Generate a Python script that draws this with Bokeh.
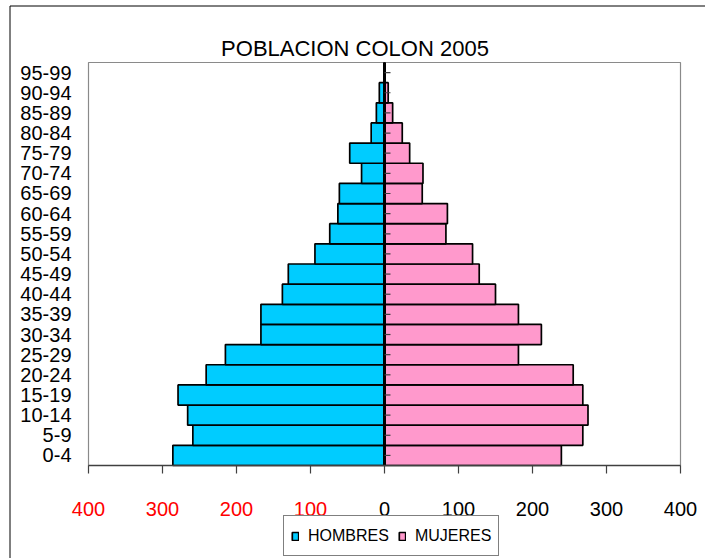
from bokeh.plotting import figure
from bokeh.models import ColumnDataSource, Range1d, Legend, LegendItem
from bokeh.core.properties import value
from bokeh.embed import file_html
from bokeh.resources import INLINE

# ---------------- data ----------------
age_groups = ["0-4", "5-9", "10-14", "15-19", "20-24", "25-29", "30-34", "35-39",
              "40-44", "45-49", "50-54", "55-59", "60-64", "65-69", "70-74", "75-79",
              "80-84", "85-89", "90-94", "95-99"]
hombres = [286, 259, 266, 279, 241, 215, 167, 167, 138, 130, 94, 74, 63, 61, 31, 47,
           18, 11, 7, 0]
mujeres = [239, 268, 275, 268, 255, 181, 212, 181, 150, 128, 119, 83, 85, 51, 52, 34,
           24, 11, 5, 0]
x_ticks = [-400, -300, -200, -100, 0, 100, 200, 300, 400]
x_tick_labels = ["400", "300", "200", "100", "0", "100", "200", "300", "400"]
x_tick_colors = ["red", "red", "red", "red", "black", "black", "black", "black", "black"]
title_text = "POBLACION COLON 2005"
legend_labels = ["HOMBRES", "MUJERES"]

# ---------------- layout (pixels) ----------------
W, H = 705, 558
PX_L, PX_R, PX_T, PX_B = 88, 680, 62, 465      # plot area
XMIN, XMAX = -400, 400
NROWS = len(age_groups)
XS = (XMAX - XMIN) / (PX_R - PX_L)             # data units per px (x)
YS = NROWS / (PX_B - PX_T)                     # rows per px (y)


def X(px):
    return XMIN + (px - PX_L) * XS


def Y(py):
    return (PX_B - py) * YS


FONT = "Liberation Sans"
BLUE, PINK = "#00CCFF", "#FF99CC"

p = figure(width=W, height=H,
           x_range=Range1d(X(0), X(W)), y_range=Range1d(Y(H), Y(0)),
           x_axis_location=None, y_axis_location=None,
           output_backend="svg", toolbar_location=None,
           min_border=0, min_border_left=0, min_border_right=0,
           min_border_top=0, min_border_bottom=0)
p.outline_line_color = None
p.grid.visible = False
p.background_fill_color = "white"
p.border_fill_color = "white"

rows = list(range(NROWS))
row_c = [i + 0.5 for i in rows]

# outer chart border (left + top visible in the picture)
p.segment(x0=[X(9.5), X(9.5)], y0=[Y(5.5), Y(5.5)], x1=[X(9.5), X(W)], y1=[Y(H), Y(5.5)],
          line_color="black", line_width=1)

# plot area outline
p.quad(left=[XMIN], right=[XMAX], bottom=[0], top=[NROWS],
       fill_color=None, line_color="#8a8a8a", line_width=1.2)

src = ColumnDataSource(dict(y=row_c, h_left=[-v for v in hombres], m_right=mujeres))
r_h = p.hbar(y="y", left="h_left", right=0, height=1.0, source=src,
             fill_color=BLUE, line_color="black", line_width=1.7)
r_m = p.hbar(y="y", left=0, right="m_right", height=1.0, source=src,
             fill_color=PINK, line_color="black", line_width=1.7)

# vertical category axis at zero with small ticks
p.segment(x0=[0], x1=[0], y0=[0], y1=[NROWS], line_color="black", line_width=3)
p.segment(x0=[0] * NROWS, x1=[6 * XS] * NROWS, y0=row_c, y1=row_c,
          line_color="#404040", line_width=1.2)

# horizontal value axis
p.segment(x0=[XMIN], x1=[XMAX], y0=[0], y1=[0], line_color="#404040", line_width=1.6)
p.segment(x0=x_ticks, x1=x_ticks, y0=[0] * len(x_ticks), y1=[-8 * YS] * len(x_ticks),
          line_color="#404040", line_width=1.2)

# x tick labels (red on the men side)
tick_src = ColumnDataSource(dict(x=x_ticks, y=[Y(508)] * len(x_ticks),
                                 text=x_tick_labels, color=x_tick_colors))
p.text(x="x", y="y", text="text", text_color="color", source=tick_src,
       text_align="center", text_baseline="alphabetic",
       text_font=value(FONT), text_font_size=value("20px"))

# age-group labels
p.text(x=[X(71)] * NROWS, y=row_c, text=age_groups, text_color="black",
       text_align="right", text_baseline="middle",
       text_font=value(FONT), text_font_size=value("20px"))

# title
p.text(x=[X(354.5)], y=[Y(48)], text=[title_text], text_color="black",
       text_align="center", text_baseline="alphabetic",
       text_font=value(FONT), text_font_size=value("22px"))

# legend
legend = Legend(items=[LegendItem(label=legend_labels[0], renderers=[r_h]),
                       LegendItem(label=legend_labels[1], renderers=[r_m])],
                orientation="horizontal", location=(283, 2))
legend.margin = 0
legend.padding = 7
legend.spacing = 9
legend.glyph_width = 8
legend.glyph_height = 10
legend.label_standoff = 9
legend.label_height = 25
legend.label_text_font = FONT
legend.label_text_font_size = "16px"
legend.label_text_color = "black"
legend.border_line_color = "black"
legend.border_line_width = 1
legend.background_fill_color = "white"
legend.background_fill_alpha = 1.0
p.add_layout(legend)

open("out.html", "w").write(file_html(p, INLINE))
